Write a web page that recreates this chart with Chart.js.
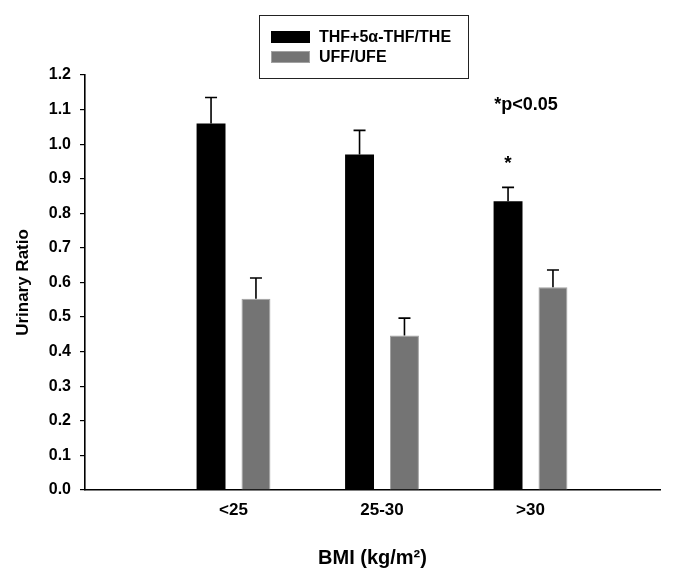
<!DOCTYPE html>
<html>
<head>
<meta charset="utf-8">
<title>Urinary Ratio by BMI</title>
<script src="https://cdn.jsdelivr.net/npm/chart.js@4/dist/chart.umd.min.js"></script>
<style>
    body { margin: 0; background: #fff; }
    #wrap { width: 675px; height: 570px; }
</style>
</head>
<body>
<div id="wrap"><canvas id="chart" width="675" height="570"></canvas></div>
<script>
const categories = ['<25', '25-30', '>30'];
const seriesNames = ['THF+5\u03b1-THF/THE', 'UFF/UFE'];
const thfValues = [1.06, 0.97, 0.835];
const thfErrors = [0.075, 0.07, 0.04];
const uffValues = [0.553, 0.447, 0.586];
const uffErrors = [0.06, 0.05, 0.05];
const yTicks = [0, 0.1, 0.2, 0.3, 0.4, 0.5, 0.6, 0.7, 0.8, 0.9, 1.0, 1.1, 1.2];
const significant = [false, false, true]; // THF series, vs <25
const noteText = '*p<0.05';

const FONT = "'Liberation Sans', Arial, Helvetica, sans-serif";
Chart.defaults.font.family = FONT;
Chart.defaults.color = '#000';

function toPoints(values) {
    return values.map(function (v, i) { return { x: i + 1, y: v }; });
}

// error bars, drawn upward only
const errorBars = {
    id: 'errorBars',
    afterDatasetsDraw: function (chart) {
        const ctx = chart.ctx;
        const y = chart.scales.y;
        const errs = [thfErrors, uffErrors];
        ctx.save();
        ctx.strokeStyle = '#000';
        ctx.lineWidth = 1.6;
        chart.data.datasets.forEach(function (ds, i) {
            chart.getDatasetMeta(i).data.forEach(function (bar, j) {
                const top = y.getPixelForValue(ds.data[j].y + errs[i][j]);
                ctx.beginPath();
                ctx.moveTo(bar.x, bar.y);
                ctx.lineTo(bar.x, top);
                ctx.moveTo(bar.x - 6, top);
                ctx.lineTo(bar.x + 6, top);
                ctx.stroke();
            });
        });
        ctx.restore();
    }
};

// significance marks and note
const notes = {
    id: 'notes',
    afterDatasetsDraw: function (chart) {
        const ctx = chart.ctx;
        const x = chart.scales.x;
        const y = chart.scales.y;
        ctx.save();
        ctx.fillStyle = '#000';
        ctx.textAlign = 'center';
        ctx.textBaseline = 'middle';
        ctx.font = 'bold 19px ' + FONT;
        chart.getDatasetMeta(0).data.forEach(function (bar, j) {
            if (!significant[j]) return;
            const top = y.getPixelForValue(thfValues[j] + thfErrors[j]);
            ctx.fillText('*', bar.x, top - 24);
        });
        ctx.font = 'bold 18px ' + FONT;
        ctx.fillText(noteText, x.getPixelForValue(2.97), y.getPixelForValue(1.112));
        ctx.restore();
    }
};

// boxed legend, two rows
const boxLegend = {
    id: 'boxLegend',
    afterDraw: function (chart) {
        const ctx = chart.ctx;
        ctx.save();
        ctx.strokeStyle = '#222';
        ctx.lineWidth = 1;
        ctx.strokeRect(259.5, 15.5, 209, 63);
        ctx.font = 'bold 16px ' + FONT;
        ctx.textBaseline = 'middle';
        ctx.textAlign = 'left';
        chart.data.datasets.forEach(function (ds, i) {
            const rowY = 31 + i * 20;
            ctx.fillStyle = ds.backgroundColor;
            ctx.fillRect(271, rowY, 39, 12);
            if (i > 0) {
                ctx.strokeStyle = ds.borderColor;
                ctx.strokeRect(271.5, rowY + 0.5, 38, 11);
            }
            ctx.fillStyle = '#000';
            ctx.fillText(ds.label, 319, rowY + 6.5);
        });
        ctx.restore();
    }
};

new Chart(document.getElementById('chart'), {
    type: 'bar',
    data: {
        datasets: [{
            label: seriesNames[0],
            data: toPoints(thfValues),
            backgroundColor: '#000000',
            borderColor: '#000000',
            borderWidth: 0
        }, {
            label: seriesNames[1],
            data: toPoints(uffValues),
            backgroundColor: '#747474',
            borderColor: '#a2a2a2',
            borderWidth: 1
        }]
    },
    options: {
        responsive: false,
        animation: false,
        categoryPercentage: 0.605,
        barPercentage: 0.644,
        layout: { padding: { top: 75, right: 15, bottom: 0, left: 0 } },
        plugins: {
            legend: { display: false },
            tooltip: { enabled: false }
        },
        scales: {
            x: {
                type: 'linear',
                min: 0,
                max: 3.872,
                offset: false,
                afterBuildTicks: function (scale) {
                    scale.ticks = categories.map(function (c, i) { return { value: i + 1 }; });
                },
                afterFit: function (scale) { scale.height = 80; },
                grid: { display: false, drawTicks: false, offset: false },
                border: { display: true, color: '#000', width: 1.6 },
                ticks: {
                    padding: 10,
                    font: { size: 17, weight: 'bold' },
                    maxRotation: 0,
                    callback: function (v) { return categories[v - 1]; }
                },
                title: {
                    display: true,
                    text: 'BMI (kg/m\u00b2)',
                    font: { size: 20, weight: 'bold' },
                    padding: { top: 0, bottom: 0 }
                }
            },
            y: {
                min: 0,
                max: 1.2,
                afterBuildTicks: function (scale) {
                    scale.ticks = yTicks.map(function (v) { return { value: v }; });
                },
                afterFit: function (scale) { scale.width = 85; },
                grid: { display: true, drawOnChartArea: false, drawTicks: true, tickLength: 5, color: '#000', lineWidth: 1.2 },
                border: { display: true, color: '#000', width: 1.6 },
                ticks: {
                    padding: 9,
                    font: { size: 16, weight: 'bold' },
                    callback: function (v) { return v.toFixed(1); }
                },
                title: {
                    display: true,
                    text: 'Urinary Ratio',
                    font: { size: 17, weight: 'bold' },
                    padding: { top: 13, bottom: 0 }
                }
            }
        }
    },
    plugins: [errorBars, notes, boxLegend]
});
</script>
</body>
</html>
